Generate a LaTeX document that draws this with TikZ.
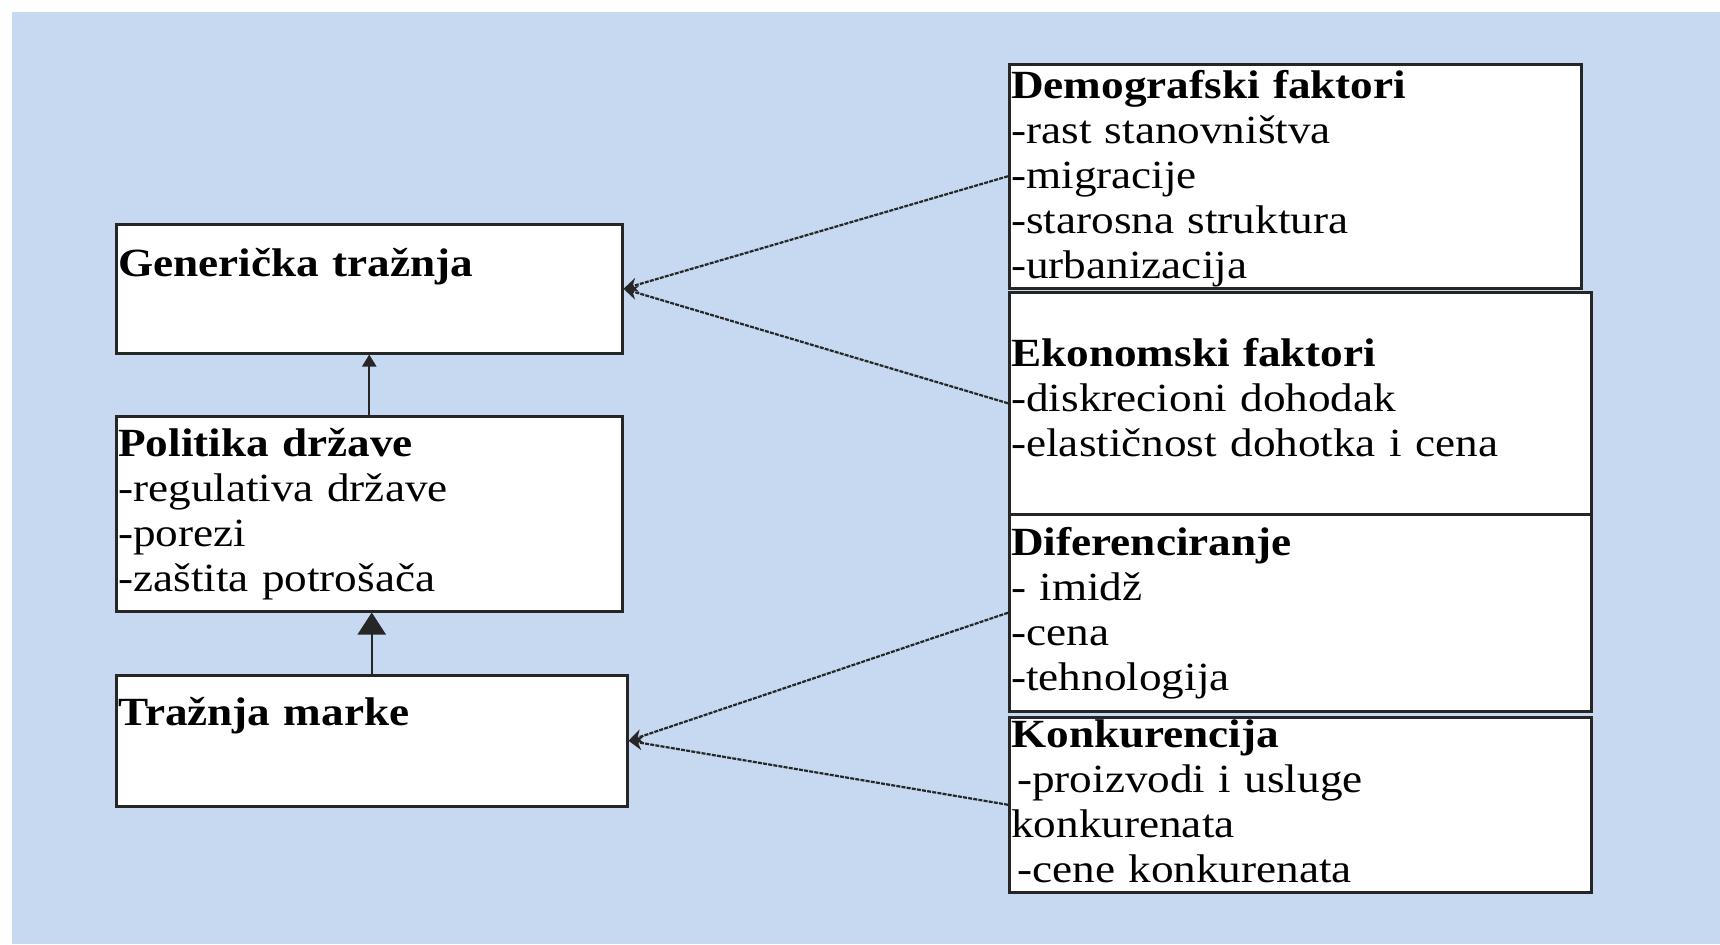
\documentclass[tikz,border=0pt]{standalone}
\usepackage{fontspec}
\setmainfont[FakeStretch=1.13]{Liberation Serif}
\usetikzlibrary{arrows.meta}
\definecolor{bgblue}{HTML}{C6D9F0}

\begin{document}
\begin{tikzpicture}[x=0.5pt,y=-0.5pt,
  box/.style={draw=black!85, line width=1.25pt, fill=white, anchor=north west,
    inner xsep=1pt, inner ysep=0pt, align=left,
    font=\fontsize{20pt}{22.5pt}\selectfont},
  conn/.style={draw=black!85, line width=1.1pt, dash pattern={on 2pt off 0.6pt},
    -{Stealth[length=7pt,width=7pt]}},
  up/.style={draw=black!85, line width=1.1pt}]
  % page and background
  \useasboundingbox (0,0) rectangle (1720,944);
  \fill[bgblue] (12,12) rectangle (1720,944);

  % left column
  \node[box, text width=251pt, text height=26pt, text depth=38.5pt] (gen) at (115,223)
    {\textbf{Generička tražnja}};
  \node[box, text width=251pt, text height=20pt, text depth=77.5pt] (pol) at (115,415)
    {\textbf{Politika države}\\-regulativa države\\-porezi\\-zaštita potrošača};
  \node[box, text width=253.5pt, text height=25pt, text depth=40.5pt] (trz) at (115,674)
    {\textbf{Tražnja marke}};

  % right column
  \node[box, text width=284pt, text height=17pt, text depth=95pt] (demo) at (1008,63)
    {\textbf{Demografski faktori}\\-rast stanovništva\\-migracije\\-starosna struktura\\-urbanizacija};
  \node[box, text width=289pt, text height=37pt, text depth=74pt] (eko) at (1008,291)
    {\textbf{Ekonomski faktori}\\-diskrecioni dohodak\\-elastičnost dohotka i cena};
  \node[box, text width=289pt, text height=20.5pt, text depth=78pt] (dif) at (1008,513)
    {\textbf{Diferenciranje}\\- imidž\\-cena\\-tehnologija};
  \node[box, text width=289pt, text height=15pt, text depth=72.5pt] (kon) at (1008,716)
    {\textbf{Konkurencija}\\\hspace*{3pt}-proizvodi i usluge\\konkurenata\\\hspace*{3pt}-cene konkurenata};

  % vertical arrows
  \draw[up, -{Triangle[length=6pt,width=7pt]}] (pol.north) -- (gen.south);
  \draw[up, -{Triangle[length=11pt,width=14pt]}] (trz.north) -- (trz.north |- pol.south);

  % connectors from factors
  \draw[conn] (demo.west) -- (gen.east);
  \draw[conn] (eko.west) -- (gen.east);
  \draw[conn] (dif.west) -- (trz.east);
  \draw[conn] (kon.west) -- (trz.east);
\end{tikzpicture}
\end{document}
